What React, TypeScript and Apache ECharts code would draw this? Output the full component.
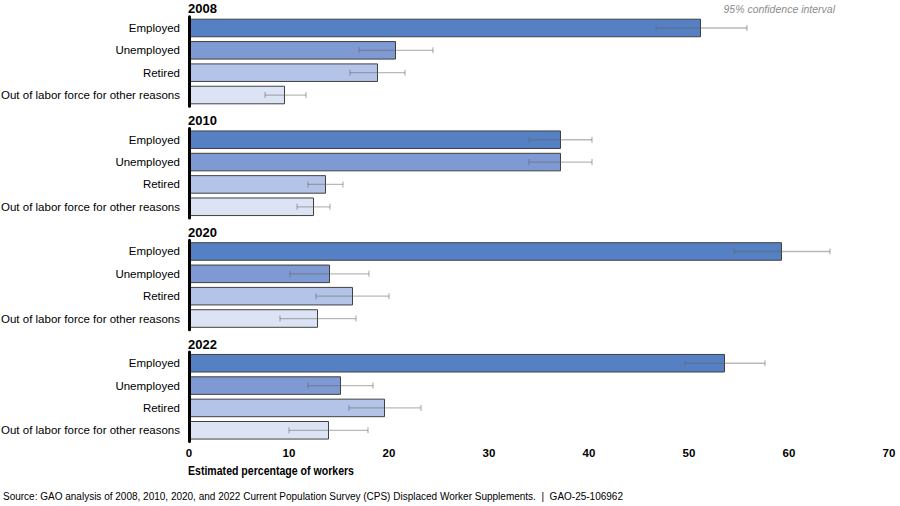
import React, { useEffect, useRef } from "react";
import * as echarts from "echarts";

const years = ["2008", "2010", "2020", "2022"];
const categories = ["Employed", "Unemployed", "Retired", "Out of labor force for other reasons"];
const categoryColors = ["#5580C4", "#7F99D2", "#B4C3E8", "#DCE3F4"];

const estimates2008 = [51.2, 20.7, 18.9, 9.6];
const low2008 = [46.7, 17.0, 16.1, 7.6];
const high2008 = [55.8, 24.4, 21.6, 11.7];

const estimates2010 = [37.2, 37.2, 13.7, 12.5];
const low2010 = [34.0, 34.0, 11.9, 10.8];
const high2010 = [40.3, 40.3, 15.4, 14.1];

const estimates2020 = [59.3, 14.1, 16.4, 12.9];
const low2020 = [54.5, 10.1, 12.7, 9.1];
const high2020 = [64.1, 18.0, 20.0, 16.7];

const estimates2022 = [53.6, 15.2, 19.6, 14.0];
const low2022 = [49.6, 11.9, 16.0, 10.0];
const high2022 = [57.6, 18.4, 23.2, 17.9];

const xMin = 0;
const xMax = 70;
const xInterval = 10;

const estimates = [estimates2008, estimates2010, estimates2020, estimates2022];
const lows = [low2008, low2010, low2020, low2022];
const highs = [high2008, high2010, high2020, high2022];

const FONT = "'Liberation Sans', Arial, sans-serif";

export default function App() {
  const ref = useRef<HTMLDivElement>(null);

  useEffect(() => {
    document.body.style.margin = "0";
    if (!ref.current) return;
    const chart = echarts.init(ref.current, null, { renderer: "svg" });

    const gridTop0 = 16.8;
    const groupStep = 111.75;
    const gridHeight = 89.4;

    const grids: any[] = [];
    const xAxes: any[] = [];
    const yAxes: any[] = [];
    const series: any[] = [];
    const graphics: any[] = [];

    years.forEach((yr, g) => {
      const top = gridTop0 + g * groupStep;
      grids.push({
        left: 189,
        right: 11,
        top,
        height: gridHeight,
        containLabel: false,
        outerBoundsMode: "none",
      });
      const isLast = g === years.length - 1;
      xAxes.push({
        type: "value",
        gridIndex: g,
        min: xMin,
        max: xMax,
        interval: xInterval,
        show: true,
        axisLine: { show: false },
        axisTick: { show: false },
        splitLine: { show: false },
        axisLabel: {
          show: isLast,
          color: "#000",
          fontFamily: FONT,
          fontWeight: "bold",
          fontSize: 11.5,
          margin: 6,
        },
      });
      yAxes.push({
        type: "category",
        gridIndex: g,
        inverse: true,
        data: categories,
        axisLine: { show: true, lineStyle: { color: "#000", width: 3 } },
        axisTick: { show: false },
        axisLabel: { color: "#000", fontFamily: FONT, fontSize: 11.5, margin: 9 },
        z: 5,
      });
      series.push({
        type: "bar",
        xAxisIndex: g,
        yAxisIndex: g,
        barCategoryGap: "17%",
        data: estimates[g].map((v, i) => ({
          value: v,
          itemStyle: { color: categoryColors[i], borderColor: "#404040", borderWidth: 1 },
        })),
        z: 2,
      });
      series.push({
        type: "custom",
        xAxisIndex: g,
        yAxisIndex: g,
        data: lows[g].map((lo, i) => [lo, highs[g][i], i]),
        encode: { x: [0, 1], y: 2 },
        z: 3,
        renderItem: (params: any, api: any) => {
          const lo = api.value(0);
          const hi = api.value(1);
          const idx = api.value(2);
          const p1 = api.coord([lo, idx]);
          const p2 = api.coord([hi, idx]);
          const cap = 3;
          const style = { stroke: "rgba(100,100,100,0.45)", lineWidth: 1.3, fill: "none" };
          return {
            type: "group",
            children: [
              { type: "line", shape: { x1: p1[0], y1: p1[1], x2: p2[0], y2: p2[1] }, style },
              { type: "line", shape: { x1: p1[0], y1: p1[1] - cap, x2: p1[0], y2: p1[1] + cap }, style },
              { type: "line", shape: { x1: p2[0], y1: p2[1] - cap, x2: p2[0], y2: p2[1] + cap }, style },
            ],
          };
        },
      });
      graphics.push({
        type: "text",
        x: 188,
        y: top - 8,
        style: {
          text: yr,
          font: `bold 13px ${FONT}`,
          fill: "#000",
          textVerticalAlign: "middle",
          textAlign: "left",
        },
      });
    });

    graphics.push({
      type: "text",
      x: 835,
      y: 9,
      style: {
        text: "95% confidence interval",
        font: `italic 10.5px ${FONT}`,
        fill: "#8c8c8c",
        textAlign: "right",
        textVerticalAlign: "middle",
      },
    });
    graphics.push({
      type: "text",
      x: 188,
      y: 471,
      scaleX: 0.88,
      style: {
        text: "Estimated percentage of workers",
        font: `bold 12px ${FONT}`,
        fill: "#000",
        textAlign: "left",
        textVerticalAlign: "middle",
      },
    });
    graphics.push({
      type: "text",
      x: 3,
      y: 496,
      style: {
        text: "Source: GAO analysis of 2008, 2010, 2020, and 2022 Current Population Survey (CPS) Displaced Worker Supplements.  |  GAO-25-106962",
        font: `10px ${FONT}`,
        fill: "#000",
        textAlign: "left",
        textVerticalAlign: "middle",
      },
    });

    chart.setOption({
      animation: false,
      backgroundColor: "#fff",
      grid: grids,
      xAxis: xAxes,
      yAxis: yAxes,
      series,
      graphic: graphics,
    });

    return () => chart.dispose();
  }, []);

  return <div ref={ref} style={{ width: 900, height: 506 }} />;
}
